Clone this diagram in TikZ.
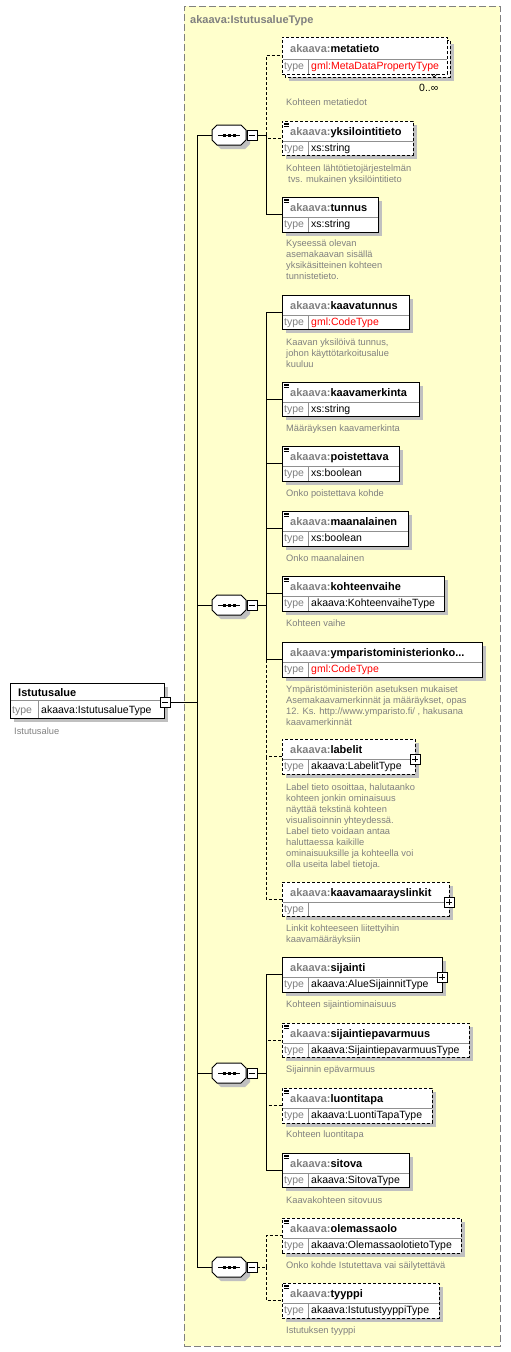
\documentclass[tikz,border=0pt]{standalone}
\usepackage{fontspec}
\setmainfont{Liberation Sans}
\definecolor{bgy}{HTML}{FFFFCC}
\definecolor{shad}{HTML}{C0C0C0}
\definecolor{pfx}{HTML}{808080}
\definecolor{dsc}{HTML}{808080}
\definecolor{divc}{HTML}{909090}
\definecolor{redt}{HTML}{FF0000}
\tikzset{
 outerbox/.style={draw=pfx, line width=1pt, dash pattern=on 7pt off 3pt, fill=bgy, inner sep=0pt, outer sep=0pt},
 ebox/.style={draw=black, line width=1pt, fill=white, inner sep=0pt, outer sep=0pt, rectangle},
 dsh/.style={dash pattern=on 3pt off 2pt},
 conn/.style={draw=black, line width=1pt},
 divl/.style={draw=divc, line width=1pt},
 ename/.style={inner sep=0pt, font=\fontsize{11}{13}\selectfont\bfseries},
 etype/.style={inner sep=0pt, font=\fontsize{10.5}{13}\selectfont},
 edesc/.style={inner sep=0pt, align=left, text=dsc, font=\fontsize{9.3}{11}\selectfont},
 pmbox/.style={draw=black, line width=1pt, fill=white, minimum size=10pt, inner sep=0pt, outer sep=0pt},
 seqnode/.style={minimum width=34pt, minimum height=20pt, inner sep=0pt, outer sep=0pt},
}
\newif\ifeshadow \eshadowtrue
\newcommand\eicon[1]{\foreach \k in {0,1,2} \draw[line width=0.7pt] (284,#1+2+1.7*\k) -- ++(5,0);}
% #1 id, #2 top y, #3 width, #4 height, #5 style, #6 icon, #7 name, #8 type, #9 divider offset
\newcommand\elem[9]{%
 \ifeshadow\fill[shad] (286,#2+4) rectangle ++(#3,#4);\fi
 \node[ebox,#5,minimum width=#3pt,minimum height=#4pt,anchor=north west] (#1) at (282,#2) {};
 \draw[divl] (282.5,#2+#9) -- ++(#3-1,0);
 \draw[divl] (308,#2+#9) -- (308,#2+#4-0.5);
 \ifnum#6=1 \eicon{#2}\fi
 \node[ename,anchor=base west] (#1n) at (290,#2+#9/2+4) {\textcolor{pfx}{akaava:}#7};
 \node[etype,anchor=base west,text=pfx] (#1k) at (284,#2+#9+10.5) {type};
 \node[etype,anchor=base west] (#1v) at (311,#2+#9+10.5) {#8};
}
\newcommand\desc[4]{\node[edesc,anchor=north west] (#1) at (#2,#3-4.4) {\strut #4};}
\newcommand\pmminus[1]{\draw[line width=1pt] ([xshift=2pt]#1.west) -- ([xshift=-2pt]#1.east);}
\newcommand\pmplus[1]{\pmminus{#1}\draw[line width=1pt] ([yshift=-2pt]#1.north) -- ([yshift=2pt]#1.south);}
% #1 name, #2 y, #3 style of outgoing line
\newcommand\seqc[3]{%
 \fill[shad] (216,#2-1) -- (221,#2-6) -- (245,#2-6) -- (250,#2-1) -- (250,#2+9) -- (245,#2+14) -- (221,#2+14) -- (216,#2+9) -- cycle;
 \node[seqnode] (#1) at (229,#2) {};
 \draw[conn,fill=white] ([xshift=5pt]#1.north west) -- ([xshift=-5pt]#1.north east) -- ([yshift=-5pt]#1.north east) -- ([yshift=5pt]#1.south east) -- ([xshift=-5pt]#1.south east) -- ([xshift=5pt]#1.south west) -- ([yshift=5pt]#1.south west) -- ([yshift=-5pt]#1.north west) -- cycle;
 \draw[conn] ([xshift=-11pt]#1.center) -- ([xshift=11pt]#1.center);
 \foreach \k in {-5,0,5} \fill ([xshift=\k pt]#1.center) +(-1.5pt,-1.5pt) rectangle +(1.5pt,1.5pt);
 \node[pmbox] (#1m) at (252,#2) {};
 \pmminus{#1m}
 \coordinate (#1b) at (266,#2);
 \draw[conn,#3] (#1m.east) -- (#1b);
}
\begin{document}
\begin{tikzpicture}[x=1pt,y=-1pt]
\useasboundingbox (0,0) rectangle (511,1352);
\node[outerbox, minimum width=316pt, minimum height=1340pt, anchor=north west] (ct) at (184,6) {};
\node[ename, anchor=base west, text=pfx] (ctt) at (190,23) {akaava:IstutusalueType};

% root element
\fill[shad] (14,687) rectangle (168,722);
\node[ebox,minimum width=154pt,minimum height=35pt,anchor=north west] (root) at (10,683) {};
\draw[divl] (10.5,700) -- (163.5,700);
\draw[divl] (38,700) -- (38,717.5);
\node[ename,anchor=base west] (rootn) at (18,696.5) {Istutusalue};
\node[etype,anchor=base west,text=pfx] (rootk) at (12,713.5) {type};
\node[etype,anchor=base west] (rootv) at (41,713.5) {akaava:IstutusalueType};
\node[pmbox] (rootm) at (165,702) {};
\pmminus{rootm}
\desc{rootd}{14}{731}{Istutusalue}

% sequences
\seqc{s1}{135}{solid}
\seqc{s2}{605}{solid}
\seqc{s3}{1073}{solid}
\seqc{s4}{1267}{dsh}

% trunk
\coordinate (t1) at (197,135);
\coordinate (t2) at (197,605);
\coordinate (t3) at (197,1073);
\coordinate (t4) at (197,1267);
\coordinate (tr) at (197,702);
\draw[conn] (rootm.east) -- (tr);
\draw[conn] (s1.west) -- (t1) -- (t4) -- (s4.west);
\draw[conn] (t2) -- (s2.west);
\draw[conn] (t3) -- (s3.west);

% metatieto (multiple)
\fill[shad] (289,44) rectangle (454,81);
\draw[ebox,dsh] (285,40) rectangle (450,77);
\eshadowfalse
\elem{e1}{37}{165}{37}{dsh}{0}{metatieto}{\textcolor{redt}{gml:MetaDataPropertyType}}{22}
\eshadowtrue
\draw[line width=0.7pt] (431,74) -- (434,77) -- (437,74);
\node[etype,anchor=base west] (e1m) at (419,91) {0..∞};
\desc{e1d}{286}{102}{Kohteen metatiedot}

\elem{e2}{121}{131}{34}{dsh}{1}{yksilointitieto}{xs:string}{20}
\desc{e2d}{286}{168}{Kohteen lähtötietojärjestelmän\\\hspace*{2pt}tvs. mukainen yksilöintitieto}

\elem{e3}{197}{96}{35}{solid}{1}{tunnus}{xs:string}{20}
\desc{e3d}{286}{243}{Kyseessä olevan\\asemakaavan sisällä\\yksikäsitteinen kohteen\\tunnistetieto.}

\elem{e4}{295}{127}{34}{solid}{0}{kaavatunnus}{\textcolor{redt}{gml:CodeType}}{20}
\desc{e4d}{286}{342}{Kaavan yksilöivä tunnus,\\johon käyttötarkoitusalue\\kuuluu}

\elem{e5}{382}{137}{34}{solid}{1}{kaavamerkinta}{xs:string}{20}
\desc{e5d}{286}{428}{Määräyksen kaavamerkinta}

\elem{e6}{446}{117}{35}{solid}{1}{poistettava}{xs:boolean}{20}
\desc{e6d}{286}{493}{Onko poistettava kohde}

\elem{e7}{511}{126}{35}{solid}{1}{maanalainen}{xs:boolean}{20}
\desc{e7d}{286}{558}{Onko maanalainen}

\elem{e8}{576}{162}{35}{solid}{1}{kohteenvaihe}{akaava:KohteenvaiheType}{20}
\desc{e8d}{286}{623}{Kohteen vaihe}

\elem{e9}{642}{200}{35}{solid}{0}{ymparistoministerionko...}{\textcolor{redt}{gml:CodeType}}{20}
\desc{e9d}{286}{689}{Ympäristöministeriön asetuksen mukaiset\\Asemakaavamerkinnät ja määräykset, opas\\12. Ks. http://www.ymparisto.fi/ , hakusana\\kaavamerkinnät}

\elem{e10}{739}{133}{35}{dsh}{0}{labelit}{akaava:LabelitType}{20}
\node[pmbox] (e10p) at (415,759) {};
\pmplus{e10p}
\desc{e10d}{286}{787}{Label tieto osoittaa, halutaanko\\kohteen jonkin ominaisuus\\näyttää tekstinä kohteen\\visualisoinnin yhteydessä.\\Label tieto voidaan antaa\\haluttaessa kaikille\\ominaisuuksille ja kohteella voi\\olla useita label tietoja.}

\elem{e11}{882}{167}{34}{dsh}{0}{kaavamaarayslinkit}{}{20}
\node[pmbox] (e11p) at (449,902) {};
\pmplus{e11p}
\desc{e11d}{286}{928}{Linkit kohteeseen liitettyihin\\kaavamääräyksiin}

\elem{e12}{957}{160}{35}{solid}{0}{sijainti}{akaava:AlueSijainnitType}{20}
\node[pmbox] (e12p) at (442,977) {};
\pmplus{e12p}
\desc{e12d}{286}{1004}{Kohteen sijaintiominaisuus}

\elem{e13}{1023}{187}{34}{dsh}{1}{sijaintiepavarmuus}{akaava:SijaintiepavarmuusType}{20}
\desc{e13d}{286}{1069}{Sijainnin epävarmuus}

\elem{e14}{1088}{150}{35}{dsh}{1}{luontitapa}{akaava:LuontiTapaType}{20}
\desc{e14d}{286}{1134}{Kohteen luontitapa}

\elem{e15}{1153}{127}{34}{solid}{1}{sitova}{akaava:SitovaType}{20}
\desc{e15d}{286}{1200}{Kaavakohteen sitovuus}

\elem{e16}{1218}{179}{35}{dsh}{1}{olemassaolo}{akaava:OlemassaolotietoType}{20}
\desc{e16d}{286}{1265}{Onko kohde Istutettava vai säilytettävä}

\elem{e17}{1283}{157}{35}{dsh}{1}{tyyppi}{akaava:IstutustyyppiType}{20}
\desc{e17d}{286}{1330}{Istutuksen tyyppi}

% connectors from sequences to elements
\draw[conn,dsh] (s1b) |- (e1.west);
\draw[conn,dsh] (s1b) |- (e2.west);
\draw[conn] (s1b) |- (e3.west);

\draw[conn] (s2b) |- (e4.west);
\draw[conn] (s2b) |- (e5.west);
\draw[conn] (s2b) |- (e6.west);
\draw[conn] (s2b) |- (e7.west);
\draw[conn] (s2b) |- (e8.west);
\draw[conn] (s2b) |- (e9.west);
\draw[conn,dsh] (e9.west -| s2b) |- (e10.west);
\draw[conn,dsh] (e10.west -| s2b) |- (e11.west);

\draw[conn] (s3b) |- (e12.west);
\draw[conn,dsh] (s3b) |- (e13.west);
\draw[conn,dsh] (s3b) |- (e14.west);
\draw[conn] (s3b) |- (e15.west);

\draw[conn,dsh] (s4b) |- (e16.west);
\draw[conn,dsh] (s4b) |- (e17.west);
\end{tikzpicture}
\end{document}
